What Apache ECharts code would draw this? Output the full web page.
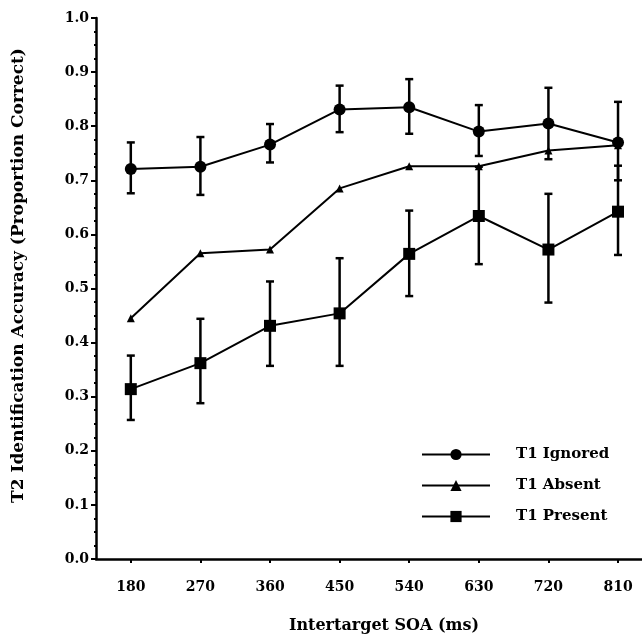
<!DOCTYPE html>
<html>
<head>
<meta charset="utf-8">
<script src="https://cdn.jsdelivr.net/npm/echarts@6/dist/echarts.min.js"></script>
<style>
html,body{margin:0;padding:0;background:#fff;}
#chart{width:642px;height:640px;}
</style>
</head>
<body>
<div id="chart"></div>
<script>
// Data
var soa = [180, 270, 360, 450, 540, 630, 720, 810];
var yTicks = [0.0, 0.1, 0.2, 0.3, 0.4, 0.5, 0.6, 0.7, 0.8, 0.9, 1.0];

var ignoredMean = [0.721, 0.725, 0.766, 0.831, 0.835, 0.790, 0.805, 0.770];
var ignoredLow  = [0.676, 0.673, 0.733, 0.789, 0.786, 0.745, 0.739, 0.700];
var ignoredHigh = [0.770, 0.780, 0.804, 0.875, 0.887, 0.839, 0.871, 0.845];

var absentMean  = [0.445, 0.565, 0.572, 0.685, 0.726, 0.726, 0.755, 0.765];

var presentMean = [0.314, 0.362, 0.431, 0.454, 0.564, 0.634, 0.572, 0.642];
var presentLow  = [0.257, 0.288, 0.357, 0.357, 0.486, 0.545, 0.474, 0.562];
var presentHigh = [0.376, 0.444, 0.513, 0.556, 0.644, 0.725, 0.675, 0.727];

var seriesNames = ['T1 Ignored', 'T1 Absent', 'T1 Present'];

var FONT = '"DejaVu Serif", "Liberation Serif", serif';

function pairs(xs, ys) { return xs.map(function (x, i) { return [x, ys[i]]; }); }
function triples(xs, lo, hi) { return xs.map(function (x, i) { return [x, lo[i], hi[i]]; }); }

function errorBar(params, api) {
  var x = api.value(0);
  var pLo = api.coord([x, api.value(1)]);
  var pHi = api.coord([x, api.value(2)]);
  var hw = 4;
  var st = { stroke: '#000', lineWidth: 2.5 };
  return {
    type: 'group',
    children: [
      { type: 'line', shape: { x1: pLo[0], y1: pLo[1], x2: pHi[0], y2: pHi[1] }, style: st },
      { type: 'line', shape: { x1: pHi[0] - hw, y1: pHi[1], x2: pHi[0] + hw, y2: pHi[1] }, style: st },
      { type: 'line', shape: { x1: pLo[0] - hw, y1: pLo[1], x2: pLo[0] + hw, y2: pLo[1] }, style: st }
    ]
  };
}

var chart = echarts.init(document.getElementById('chart'), null, { renderer: 'canvas' });

var lineStyle = { color: '#000', width: 2 };

chart.setOption({
  animation: false,
  backgroundColor: '#fff',
  grid: { left: 96, right: 0, top: 18, bottom: 81, containLabel: false },
  legend: {
    data: seriesNames,
    orient: 'vertical',
    left: 416,
    top: 442,
    itemWidth: 68,
    itemHeight: 14,
    itemGap: 16,
    textStyle: { fontFamily: FONT, fontSize: 15, fontWeight: 'bold', color: '#000', padding: [0, 0, 0, 21] },
    inactiveColor: '#000'
  },
  xAxis: {
    type: 'value',
    min: 135,
    max: 841,
    name: 'Intertarget SOA (ms)',
    nameLocation: 'middle',
    nameGap: 59,
    nameTextStyle: { fontFamily: FONT, fontSize: 16, fontWeight: 'bold', color: '#000', padding: [0, 0, 0, 30] },
    axisLine: { show: true, lineStyle: { color: '#000', width: 2.5 } },
    axisTick: { show: true, length: 4, lineStyle: { color: '#000', width: 2 }, customValues: soa },
    axisLabel: { fontFamily: FONT, fontSize: 14, fontWeight: 'bold', color: '#000', margin: 21, customValues: soa },
    splitLine: { show: false }
  },
  yAxis: {
    type: 'value',
    min: 0,
    max: 1,
    interval: 0.1,
    name: 'T2 Identification Accuracy (Proportion Correct)',
    nameLocation: 'middle',
    nameGap: 69,
    nameTextStyle: { fontFamily: FONT, fontSize: 17, fontWeight: 'bold', color: '#000', padding: [0, 0, 0, 26] },
    axisLine: { show: true, lineStyle: { color: '#000', width: 2.5 } },
    axisTick: { show: true, length: 5, lineStyle: { color: '#000', width: 2 } },
    minorTick: { show: true, splitNumber: 4, length: 2, lineStyle: { color: '#000', width: 2 } },
    axisLabel: {
      fontFamily: FONT, fontSize: 14, fontWeight: 'bold', color: '#000', margin: 7,
      formatter: function (v) { return v.toFixed(1); }
    },
    splitLine: { show: false }
  },
  series: [
    {
      name: 'T1 Ignored err', type: 'custom', renderItem: errorBar,
      data: triples(soa, ignoredLow, ignoredHigh), encode: { x: 0, y: [1, 2] }, z: 1, silent: true
    },
    {
      name: 'T1 Present err', type: 'custom', renderItem: errorBar,
      data: triples(soa, presentLow, presentHigh), encode: { x: 0, y: [1, 2] }, z: 1, silent: true
    },
    {
      name: seriesNames[0], type: 'line', data: pairs(soa, ignoredMean),
      symbol: 'circle', symbolSize: 12,
      lineStyle: lineStyle, itemStyle: { color: '#000' }, z: 3
    },
    {
      name: seriesNames[1], type: 'line', data: pairs(soa, absentMean),
      symbol: 'triangle', symbolSize: 8,
      lineStyle: lineStyle, itemStyle: { color: '#000' }, z: 3
    },
    {
      name: seriesNames[2], type: 'line', data: pairs(soa, presentMean),
      symbol: 'rect', symbolSize: 12,
      lineStyle: lineStyle, itemStyle: { color: '#000' }, z: 3
    }
  ]
});
</script>
</body>
</html>
